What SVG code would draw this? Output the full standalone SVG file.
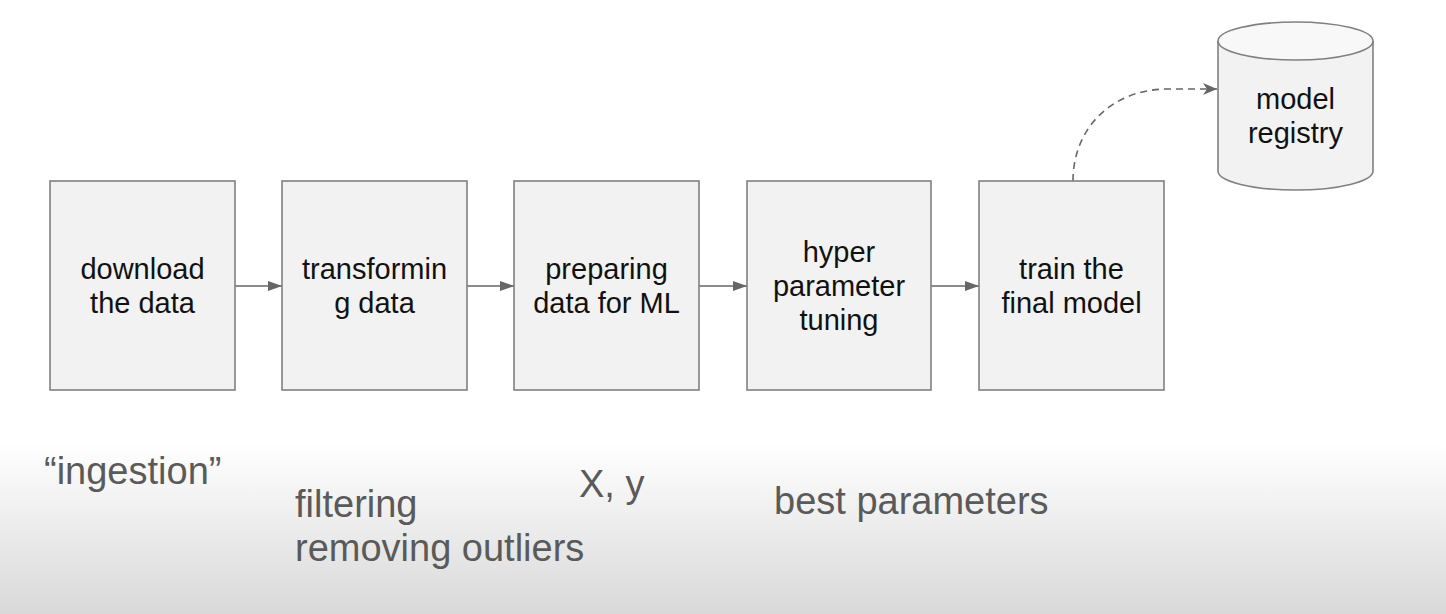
<svg xmlns="http://www.w3.org/2000/svg" width="1446" height="614" viewBox="0 0 1446 614">
<defs>
<linearGradient id="bg" x1="0" y1="0" x2="0" y2="614" gradientUnits="userSpaceOnUse">
<stop offset="0" stop-color="#ffffff"/>
<stop offset="0.72" stop-color="#ffffff"/>
<stop offset="1" stop-color="#d9d9d9"/>
</linearGradient>
<marker id="ah" viewBox="0 0 14 10" refX="14" refY="5" markerWidth="14" markerHeight="10" markerUnits="userSpaceOnUse" orient="auto">
<path d="M0,0 L14,5 L0,10 Z" fill="#666666"/>
</marker>
<marker id="ahd" viewBox="0 0 14 12" refX="14" refY="6" markerWidth="14" markerHeight="12" markerUnits="userSpaceOnUse" orient="auto">
<path d="M0,0 L14,6 L0,12 L4,6 Z" fill="#666666"/>
</marker>
</defs>
<style>
.box{fill:#f2f2f2;stroke:#808080;stroke-width:1.6}
.t{font-family:"Liberation Sans",Arial,sans-serif;font-size:29px;fill:#111111;text-anchor:middle}
.note{font-family:"Liberation Sans",Arial,sans-serif;font-size:38px;fill:#5a5a5a}
.conn{fill:none;stroke:#666666;stroke-width:1.6}
</style>
<rect x="0" y="0" width="1446" height="614" fill="url(#bg)"/>

<g id="connectors">
<line class="conn" x1="235" y1="286" x2="282" y2="286" marker-end="url(#ah)"/>
<line class="conn" x1="467" y1="286" x2="514" y2="286" marker-end="url(#ah)"/>
<line class="conn" x1="699" y1="286" x2="747" y2="286" marker-end="url(#ah)"/>
<line class="conn" x1="931" y1="286" x2="979" y2="286" marker-end="url(#ah)"/>
<path class="conn" d="M1073,181 C1073,128 1112,89 1168,89 L1217,89" stroke-dasharray="7,5" marker-end="url(#ahd)"/>
</g>

<g id="node-download">
<rect class="box" x="50" y="181" width="185" height="209"/>
<text class="t" x="142.5" y="279">download</text>
<text class="t" x="142.5" y="313">the data</text>
</g>
<g id="node-transforming">
<rect class="box" x="282" y="181" width="185" height="209"/>
<text class="t" x="374.5" y="279">transformin</text>
<text class="t" x="374.5" y="313">g data</text>
</g>
<g id="node-preparing">
<rect class="box" x="514" y="181" width="185" height="209"/>
<text class="t" x="606.5" y="279">preparing</text>
<text class="t" x="606.5" y="313">data for ML</text>
</g>
<g id="node-hyper">
<rect class="box" x="747" y="181" width="184" height="209"/>
<text class="t" x="839" y="262">hyper</text>
<text class="t" x="839" y="296">parameter</text>
<text class="t" x="839" y="330">tuning</text>
</g>
<g id="node-train">
<rect class="box" x="979" y="181" width="185" height="209"/>
<text class="t" x="1071.5" y="279">train the</text>
<text class="t" x="1071.5" y="313">final model</text>
</g>
<g id="node-registry">
<path d="M1218,41 L1218,171 A77.5,19 0 0 0 1373,171 L1373,41" fill="#f2f2f2" stroke="#808080" stroke-width="1.6"/>
<ellipse cx="1295.5" cy="41" rx="77.5" ry="19" fill="#f8f8f8" stroke="#808080" stroke-width="1.6"/>
<text class="t" x="1295.5" y="109">model</text>
<text class="t" x="1295.5" y="143">registry</text>
</g>

<g id="notes">
<text class="note" x="44" y="484">“ingestion”</text>
<text class="note" x="295" y="517">filtering</text>
<text class="note" x="295" y="561">removing outliers</text>
<text class="note" x="579" y="497">X, y</text>
<text class="note" x="774" y="514">best parameters</text>
</g>
</svg>
